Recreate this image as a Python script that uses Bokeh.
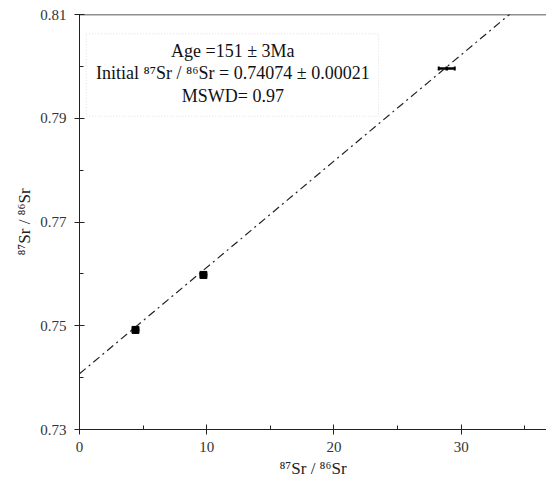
from bokeh.plotting import figure
from bokeh.models import (FixedTicker, PrintfTickFormatter, Span, BoxAnnotation,
                          Label, Whisker, ColumnDataSource, Range1d)
from bokeh.embed import file_html
from bokeh.resources import INLINE

# data
sr_x = [4.4, 9.74, 28.86]
sr_y = [0.7492, 0.7598, 0.7996]
x_err = [0.3, 0.3, 0.63]
y_err = [0.0007, 0.0007, 0.0004]
intercept = 0.74074
slope = 0.00205
line_x = [0, 36.9]
line_y = [intercept + slope * v for v in line_x]
x_ticks = [0, 10, 20, 30]
y_ticks = [0.73, 0.75, 0.77, 0.79, 0.81]
info_lines = ["Age =151 \u00b1 3Ma",
              "Initial \u2078\u2077Sr / \u2078\u2076Sr = 0.74074 \u00b1 0.00021",
              "MSWD= 0.97"]

FONT = "Liberation Serif"

p = figure(width=546, height=484, output_backend="svg", toolbar_location=None,
           x_range=Range1d(0, 36.7), y_range=Range1d(0.73, 0.81),
           min_border_left=79, min_border_right=0, min_border_top=14,
           min_border_bottom=55)
p.grid.visible = False
p.outline_line_color = None
p.background_fill_color = "white"

for ax in (p.xaxis[0], p.yaxis[0]):
    ax.major_tick_in = 5
    ax.major_tick_out = 5
    ax.minor_tick_in = 4
    ax.minor_tick_out = 0
    ax.axis_line_color = "#222222"
    ax.major_tick_line_color = "#222222"
    ax.minor_tick_line_color = "#222222"
    ax.major_label_text_font = FONT
    ax.major_label_text_font_size = "15px"
    ax.major_label_text_color = "#333333"
    ax.axis_label_text_font = FONT
    ax.axis_label_text_font_size = "17px"
    ax.axis_label_text_font_style = "normal"
    ax.axis_label_text_color = "#222222"

p.xaxis.ticker = FixedTicker(ticks=x_ticks, minor_ticks=[5, 15, 25, 35])
p.yaxis.ticker = FixedTicker(ticks=y_ticks, minor_ticks=[0.74, 0.76, 0.78, 0.80])
p.xaxis.formatter = PrintfTickFormatter(format="%d")
p.yaxis.formatter = PrintfTickFormatter(format="%.2f")
p.xaxis.axis_label = "\u2078\u2077Sr / \u2078\u2076Sr"
p.yaxis.axis_label = "\u2078\u2077Sr / \u2078\u2076Sr"
p.xaxis.major_label_standoff = 7
p.xaxis.axis_label_standoff = 4
p.yaxis.major_label_standoff = 8
p.yaxis.axis_label_standoff = 3

p.add_layout(Span(location=0.81, dimension="width", line_color="#222222", line_width=1.5))

p.line(line_x, line_y, line_color="#222222", line_width=1.2, line_dash="8 4 2 4")

src = ColumnDataSource(dict(
    x=sr_x, y=sr_y,
    xl=[a - e for a, e in zip(sr_x, x_err)], xu=[a + e for a, e in zip(sr_x, x_err)],
    yl=[a - e for a, e in zip(sr_y, y_err)], yu=[a + e for a, e in zip(sr_y, y_err)],
))
p.add_layout(Whisker(source=src, base="y", lower="xl", upper="xu", dimension="width",
                     line_color="black", line_width=2.5,
                     upper_head=None, lower_head=None))
p.add_layout(Whisker(source=src, base="x", lower="yl", upper="yu", dimension="height",
                     line_color="black", line_width=2.5,
                     upper_head=None, lower_head=None))
p.scatter(sr_x[:2], sr_y[:2], marker="square", size=7, color="black")
xl = src.data["xl"][2:]
xu = src.data["xu"][2:]
p.segment(x0=xl, y0=[v - 0.0004 for v in sr_y[2:]],
          x1=xl, y1=[v + 0.0004 for v in sr_y[2:]],
          line_color="black", line_width=2)
p.segment(x0=xu, y0=[v - 0.0004 for v in sr_y[2:]],
          x1=xu, y1=[v + 0.0004 for v in sr_y[2:]],
          line_color="black", line_width=2)

p.add_layout(BoxAnnotation(left=0.53, right=23.5, bottom=0.7904, top=0.8063,
                           fill_color="white", fill_alpha=1.0,
                           line_color="#999999", line_dash="1 2", line_width=1))

for yy, txt in zip([0.80306, 0.79881, 0.79438], info_lines):
    p.add_layout(Label(x=12.05, y=yy, text=txt, text_align="center",
                       text_baseline="middle", text_font=FONT,
                       text_font_size="18px", text_color="#111111"))

open("out.html", "w").write(file_html(p, INLINE))
